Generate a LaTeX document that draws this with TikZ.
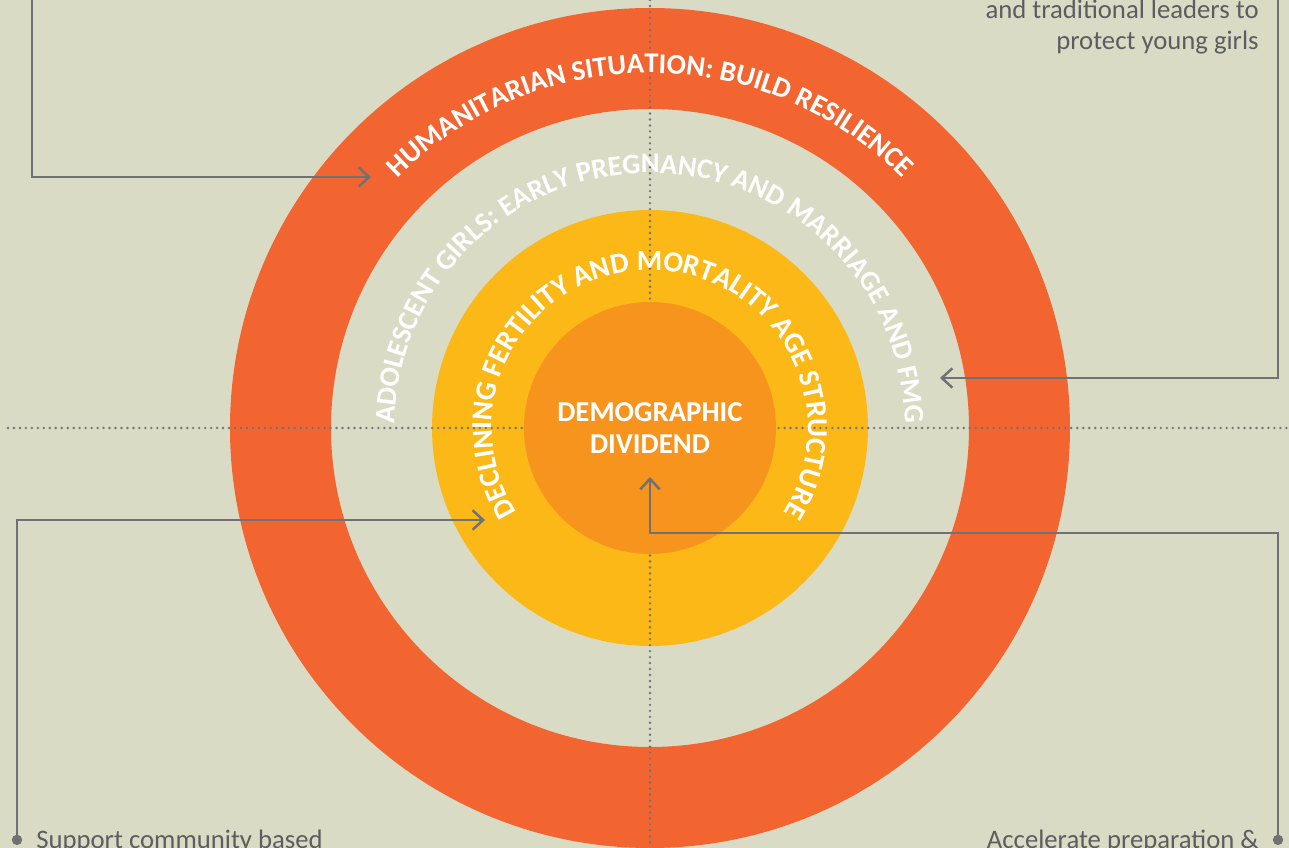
\documentclass[tikz,border=0pt]{standalone}
\usepackage{fontspec}
\setmainfont{Carlito}
\usepackage{xcolor}
\usetikzlibrary{positioning,arrows.meta,decorations.text}

\definecolor{paper}{RGB}{218,219,197}
\definecolor{ringred}{RGB}{242,101,49}
\definecolor{ringyellow}{RGB}{251,184,23}
\definecolor{coreorange}{RGB}{247,148,29}
\definecolor{linegray}{RGB}{112,113,116}
\definecolor{notegray}{RGB}{92,93,95}

\newcommand\ringfont{\bfseries\fontsize{16.3}{18}\selectfont}
\newcommand\bandfont{\bfseries\fontsize{16.2}{18}\selectfont}
\newcommand\yellowfont{\bfseries\fontsize{16.6}{18}\selectfont}

\tikzset{
  link/.style={draw=linegray, line width=1.4pt, -{Straight Barb[length=6pt, width=11pt, line width=1.4pt]}},
  dotlink/.style={link, {Circle[length=5.8pt]}-{Straight Barb[length=6pt, width=11pt, line width=1.4pt]}},
  guide/.style={draw=linegray, line width=1.5pt, dash pattern=on 0pt off 3.4pt, line cap=round},
  note/.style={text=notegray, font=\fontsize{15.2}{18.1}\selectfont, inner sep=0pt},
  curved/.style={decorate, decoration={text along path, text align=center, text color=white, text={#1}}}
}

\begin{document}
\begin{tikzpicture}[x=0.02cm, y=0.02cm]
  \useasboundingbox (-650,-420) rectangle (639,428);
  \fill[paper] (-650,-420) rectangle (639,428);

  % rings
  \fill[ringred, even odd rule] (0,0) circle (420) (0,0) circle (319);
  \fill[ringyellow] (0,0) circle (218);

  % cross hairs
  \draw[guide] (-642,0) -- (639,0);
  \draw[guide] (0,428) -- (0,-420);

  \node[circle, fill=coreorange, minimum size=5.04cm, inner sep=0pt, align=center,
        text=white, font=\bfseries\fontsize{16.4}{18.7}\selectfont] (core) at (0,0) {DEMOGRAPHIC\\DIVIDEND};

  % ring labels
  \path[curved={|\ringfont|HUMANITARIAN SITUATION: BUILD RESILIENCE}]
    (180:355) arc[start angle=180, end angle=0, radius=355];
  \path[curved={|\bandfont|ADOLESCENT GIRLS: EARLY PREGNANCY AND MARRIAGE AND FMG}]
    (185:255) arc[start angle=185, end angle=-5, radius=255];
  \path[curved={|\yellowfont|DECLINING FERTILITY AND MORTALITY AGE STRUCTURE}]
    (230:158) arc[start angle=230, end angle=-50, radius=158];

  % side notes
  \node[note, align=right, anchor=base east] (leaders) at (609,378) {and traditional leaders to\\protect young girls};
  \node[note, anchor=base west] (community) at (-614,-420) {Support community based};
  \node[note, anchor=base east] (accelerate) at (609,-420) {Accelerate preparation \&};

  % connector ends
  \coordinate (tlstart) at (-618,428);
  \coordinate (humtip) at (-279,251);
  \coordinate (trstart) at (628,428);
  \coordinate (adotip) at (290,50);
  \coordinate (bldot) at (-633,-417);
  \coordinate (yeltip) at (-165,-92);
  \coordinate (brdot) at (628,-417);
  \coordinate (brbend) at (0,-105);
  \coordinate (coretip) at (0,-49);

  \draw[link] (tlstart) |- (humtip);
  \draw[link] (trstart) |- (adotip);
  \draw[dotlink] (bldot) |- (yeltip);
  \draw[dotlink] (brdot) |- (brbend) -- (coretip);
\end{tikzpicture}
\end{document}
